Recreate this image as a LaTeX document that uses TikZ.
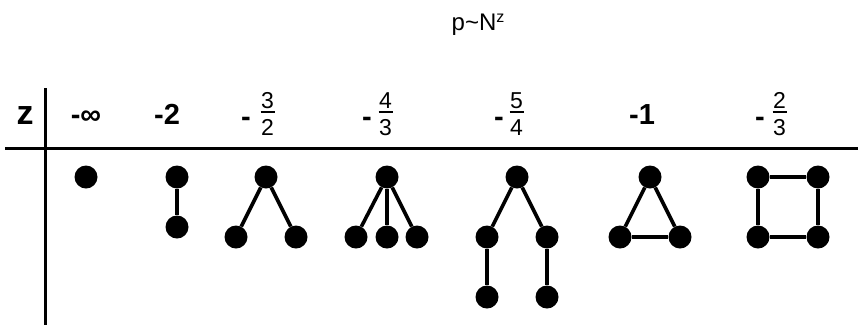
\documentclass[tikz,border=0pt]{standalone}
\usepackage{fontspec}
\setmainfont{Liberation Sans}
\begin{document}
\begin{tikzpicture}[x=1pt,y=-1pt,
  vtx/.style={circle,fill=black,inner sep=0pt,minimum size=23pt},
  edge/.style={line width=3.6pt},
  rulel/.style={line width=3pt},
  big/.style={font=\fontsize{29}{30}\selectfont\bfseries, inner sep=0pt, anchor=base},
  zl/.style={font=\fontsize{34}{34}\selectfont\bfseries, inner sep=0pt, anchor=base},
  fracd/.style={font=\fontsize{23}{23}\selectfont, inner sep=0pt, anchor=base},
  fbar/.style={line width=1.3pt},
]
\useasboundingbox (0,0) rectangle (858,325);

% title
\node[inner sep=0pt, anchor=base, font=\fontsize{24}{24}\selectfont] (title) at (478,30)
  {p\textasciitilde N\raisebox{8pt}{\fontsize{16}{16}\selectfont z}};

% axes
\coordinate (hl) at (5,148);
\coordinate (hr) at (858,148);
\coordinate (vt) at (45,88);
\coordinate (vb) at (45,325);
\draw[rulel] (hl) -- (hr);
\draw[rulel] (vt) -- (vb);

% header labels
\node[zl] (zlab) at (25,124) {z};
\node[big] (linf) at (86,124) {-∞};
\node[big] (l2) at (167,124) {-2};
\node[big] (l1) at (642,124) {-1};

\node[big] (m32) at (246,126) {-};
\node[fracd] (n32) at (267.5,108) {3};
\node[fracd] (d32) at (267.5,135) {2};
\draw[fbar] (260.5,112) -- (274.5,112);

\node[big] (m43) at (367,126) {-};
\node[fracd] (n43) at (385.5,108) {4};
\node[fracd] (d43) at (385.5,135) {3};
\draw[fbar] (378.5,112) -- (392.5,112);

\node[big] (m54) at (499,126) {-};
\node[fracd] (n54) at (516.5,108) {5};
\node[fracd] (d54) at (516.5,135) {4};
\draw[fbar] (509.5,112) -- (523.5,112);

\node[big] (m23) at (760,126) {-};
\node[fracd] (n23) at (779.5,108) {2};
\node[fracd] (d23) at (779.5,135) {3};
\draw[fbar] (772.5,112) -- (786.5,112);

% graph -inf
\node[vtx] (a1) at (86,177) {};

% graph -2
\node[vtx] (b1) at (177,177) {};
\node[vtx] (b2) at (177,227) {};
\draw[edge] (b1) -- (b2);

% graph -3/2
\node[vtx] (c1) at (266,177) {};
\node[vtx] (c2) at (236,237) {};
\node[vtx] (c3) at (296,237) {};
\draw[edge] (c1) -- (c2);
\draw[edge] (c1) -- (c3);

% graph -4/3
\node[vtx] (d1) at (387,177) {};
\node[vtx] (d2) at (356,237) {};
\node[vtx] (d3) at (387,237) {};
\node[vtx] (d4) at (417,237) {};
\draw[edge] (d1) -- (d2);
\draw[edge] (d1) -- (d3);
\draw[edge] (d1) -- (d4);

% graph -5/4
\node[vtx] (e1) at (517,177) {};
\node[vtx] (e2) at (487,237) {};
\node[vtx] (e3) at (547,237) {};
\node[vtx] (e4) at (487,297) {};
\node[vtx] (e5) at (547,297) {};
\draw[edge] (e1) -- (e2);
\draw[edge] (e1) -- (e3);
\draw[edge] (e2) -- (e4);
\draw[edge] (e3) -- (e5);

% graph -1
\node[vtx] (f1) at (650,177) {};
\node[vtx] (f2) at (620,237) {};
\node[vtx] (f3) at (680,237) {};
\draw[edge] (f1) -- (f2);
\draw[edge] (f1) -- (f3);
\draw[edge] (f2) -- (f3);

% graph -2/3
\node[vtx] (g1) at (758,177) {};
\node[vtx] (g2) at (818,177) {};
\node[vtx] (g3) at (758,237) {};
\node[vtx] (g4) at (818,237) {};
\draw[edge] (g1) -- (g2);
\draw[edge] (g2) -- (g4);
\draw[edge] (g4) -- (g3);
\draw[edge] (g3) -- (g1);
\end{tikzpicture}
\end{document}
